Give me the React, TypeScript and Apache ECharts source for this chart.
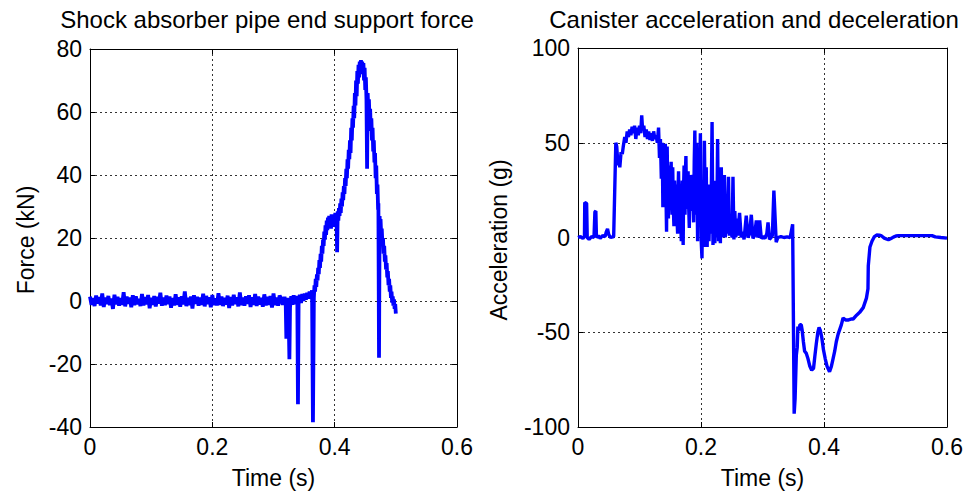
import React, { useEffect, useRef } from "react";
import * as echarts from "echarts";

const titles = ["Shock absorber pipe end support force", "Canister acceleration and deceleration"];
const xLabel = "Time (s)";
const yLabels = ["Force (kN)", "Acceleration (g)"];

const forceTicks = { min: -40, max: 80, interval: 20 };
const accTicks = { min: -100, max: 100, interval: 50 };
const timeTicks = { min: 0, max: 0.6, interval: 0.2 };

// support force (kN), quiet part sampled every 2.5 ms from t = 0
const forceNoiseStep = 0.0025;
const forceNoise = [
  1.4, -1.2, 0.9, -1.6, 1.7, -0.8, 1.2, -1.4, 2.4, -1.9,
  1.1, -1.0, 1.6, -1.3, 0.8, -2.5, 2.0, -1.1, 1.3, -1.5,
  0.9, -1.2, 2.8, -1.7, 1.4, -0.9, 1.1, -2.0, 1.8, -1.3,
  1.5, -1.0, 0.7, -1.6, 2.2, -1.4, 1.2, -1.1, 1.9, -2.3,
  1.0, -1.2, 1.6, -1.7, 1.3, -0.8, 2.6, -1.5, 1.1, -1.3,
  1.7, -1.0, 1.4, -2.1, 0.9, -1.4, 2.1, -1.2, 1.2, -1.8,
  1.5, -1.1, 3.0, -1.6, 1.0, -1.3, 1.4, -2.4, 1.8, -0.9,
  1.3, -1.5, 1.1, -1.2, 2.3, -1.7, 1.6, -1.0, 1.2, -2.0,
  1.9, -1.3, 0.8, -1.4, 2.5, -1.2, 1.4, -1.6, 1.0, -1.1,
  1.7, -2.2, 1.3, -1.4, 2.0, -1.0, 1.2, -1.7, 2.7, -1.3,
  1.1, -1.5, 1.5, -0.9, 1.8, -1.9, 1.2, -1.2, 2.2, -1.6,
  1.4, -1.1, 1.0, -1.8, 2.1, -1.4, 1.3, -1.2, 1.6, -2.1,
  2.4, -1.3, 1.1, -1.5, 1.7,
];

// support force (kN), impact part: [time s, force kN]
const forceEvent: [number, number][] = [
  [0.312, 1.0], [0.315, -1.2], [0.318, 1.3], [0.320, -1.0], [0.321, -12], [0.322, -5],
  [0.323, 1.0], [0.3245, -1.0], [0.326, -18.5], [0.327, -2], [0.329, 1.5], [0.331, -1.2],
  [0.333, 1.8], [0.335, -1.0], [0.337, 1.6], [0.339, -0.8], [0.340, -32.8], [0.341, -1],
  [0.343, 2.0], [0.345, -0.6], [0.347, 2.2], [0.349, 0], [0.351, 2.4], [0.353, 0.4],
  [0.355, 2.6], [0.357, 0.8], [0.359, 3.0], [0.361, 1.2], [0.363, 3.4], [0.3645, -38.5],
  [0.366, 1], [0.367, 5], [0.368, 3], [0.369, 7], [0.370, 4.5], [0.371, 8.5], [0.372, 6.5],
  [0.373, 10.5], [0.374, 8.5], [0.375, 13], [0.376, 10.5], [0.377, 15], [0.378, 12.5],
  [0.379, 17.5], [0.380, 15], [0.381, 19.5], [0.382, 17.5], [0.383, 22], [0.384, 19.5],
  [0.385, 24], [0.386, 21], [0.387, 25.5], [0.388, 22.5], [0.389, 26.5], [0.390, 23],
  [0.391, 27], [0.392, 23.5], [0.393, 27], [0.394, 23], [0.395, 27.5], [0.396, 23.5],
  [0.397, 27], [0.398, 24], [0.399, 27.5], [0.400, 23.5], [0.401, 28], [0.402, 24],
  [0.403, 27], [0.404, 15.5], [0.405, 28.5], [0.406, 25.5], [0.407, 29.5], [0.408, 27],
  [0.409, 31], [0.410, 28], [0.411, 32.5], [0.412, 30], [0.413, 34.5], [0.414, 32],
  [0.415, 36.5], [0.416, 34], [0.417, 39], [0.418, 36.5], [0.419, 42], [0.420, 39],
  [0.421, 45], [0.422, 42], [0.423, 48], [0.424, 45], [0.425, 51], [0.426, 47],
  [0.427, 55], [0.428, 51], [0.429, 58], [0.430, 55], [0.431, 62], [0.432, 58],
  [0.433, 66], [0.434, 62], [0.435, 70], [0.436, 65], [0.437, 73], [0.438, 69],
  [0.439, 75], [0.440, 71], [0.441, 76], [0.442, 72.5], [0.443, 76.5], [0.444, 73],
  [0.445, 76], [0.446, 72], [0.447, 75.5], [0.448, 70], [0.449, 74], [0.450, 67],
  [0.451, 71], [0.452, 64], [0.453, 42], [0.454, 66], [0.455, 60], [0.456, 64],
  [0.457, 57], [0.458, 61], [0.459, 54], [0.460, 58], [0.461, 51], [0.462, 55],
  [0.463, 47.5], [0.464, 51], [0.465, 44], [0.466, 47], [0.467, 39], [0.468, 43],
  [0.469, 34], [0.470, 37], [0.471, 29], [0.4715, 31], [0.4725, -18], [0.4735, 27],
  [0.474, 24], [0.475, 26], [0.476, 21], [0.477, 23], [0.478, 18], [0.479, 20],
  [0.480, 15], [0.481, 17.5], [0.482, 12.5], [0.483, 14.5], [0.484, 10], [0.485, 12],
  [0.486, 7.5], [0.487, 9.5], [0.488, 5], [0.489, 7], [0.490, 3], [0.491, 5],
  [0.492, 1], [0.493, 3], [0.494, -0.5], [0.495, 1.5], [0.496, -1.5], [0.497, 0.5],
  [0.498, -2.5], [0.499, -1], [0.500, -4],
];

// canister acceleration (g): [time s, acceleration g]
const accPoints: [number, number][] = [
  [0, 0], [0.004, 0.5], [0.008, -0.5], [0.0105, 0.5], [0.011, 18.5], [0.014, 18], [0.015, 0],
  [0.018, -1], [0.022, 0.5], [0.026, 0], [0.0275, 13.5], [0.029, 14], [0.030, 0], [0.033, 1],
  [0.036, -0.5], [0.040, 1], [0.044, 0.5], [0.046, 3], [0.048, 4.5], [0.050, 1.5], [0.053, 0],
  [0.058, 0.5], [0.0615, 50], [0.063, 48], [0.065, 38], [0.066, 43], [0.068, 37], [0.070, 45],
  [0.072, 44], [0.0736, 48], [0.076, 53], [0.078, 50], [0.080, 56], [0.082, 53], [0.084, 57],
  [0.086, 54], [0.088, 58.5], [0.090, 55], [0.092, 59], [0.094, 52], [0.096, 58], [0.098, 54],
  [0.100, 59], [0.102, 55], [0.1036, 64.5], [0.105, 57], [0.107, 59], [0.109, 53], [0.111, 57],
  [0.113, 52], [0.115, 56], [0.117, 51.5], [0.119, 55], [0.121, 51], [0.123, 56], [0.125, 52],
  [0.127, 54], [0.129, 50], [0.131, 58], [0.1325, 42], [0.134, 52], [0.1355, 31], [0.1365, 47],
  [0.137, 50], [0.138, 16], [0.1388, 40], [0.1395, 46], [0.1403, 28], [0.141, 20], [0.1415, 44],
  [0.142, 49.5], [0.143, 25], [0.144, 3], [0.1445, 30], [0.145, 48], [0.146, 22], [0.147, 10],
  [0.1475, 33], [0.148, 38], [0.149, 20], [0.150, 15], [0.1508, 34], [0.1515, 40], [0.1522, 18],
  [0.153, 12], [0.1535, 30], [0.154, 37], [0.155, 16], [0.156, 6], [0.1565, 24], [0.157, 30],
  [0.158, 14], [0.159, 8], [0.1595, 22], [0.160, 28], [0.161, 10], [0.162, 2], [0.1628, 26],
  [0.1635, 35], [0.1643, 14], [0.165, 6], [0.1655, 20], [0.166, 25], [0.167, 8], [0.168, -2],
  [0.1688, 22], [0.1695, 30], [0.1703, 10], [0.171, -4], [0.1718, 28], [0.1725, 38], [0.1733, 20],
  [0.174, 12], [0.1748, 36], [0.1755, 43], [0.1762, 24], [0.177, 15], [0.178, 30], [0.179, 35],
  [0.180, 16], [0.181, 5], [0.1815, 26], [0.182, 33], [0.183, 20], [0.184, 14], [0.185, 28],
  [0.186, 33], [0.187, 18], [0.188, 8], [0.189, 40], [0.190, 56.5], [0.1908, 30], [0.1915, 12],
  [0.1922, 38], [0.193, 50], [0.1938, 20], [0.1945, -2], [0.1952, 28], [0.196, 40], [0.1968, 20],
  [0.1975, 6], [0.1982, 38], [0.199, 55], [0.1998, 20], [0.2005, -3], [0.2016, -11],
  [0.203, 30], [0.2045, -5], [0.2055, 51], [0.207, 10], [0.2085, 37], [0.210, -5], [0.2115, 28],
  [0.213, -2], [0.2145, 20], [0.216, 2], [0.218, 61], [0.2195, -4], [0.221, 30], [0.2225, -3],
  [0.224, 22], [0.2255, 0], [0.227, 52], [0.2285, -2], [0.230, 24], [0.2315, -3], [0.233, 37],
  [0.2345, 0], [0.236, 22], [0.238, 33], [0.2395, 0], [0.241, 19], [0.2425, 2], [0.2447, 32],
  [0.246, 1], [0.2475, 12], [0.249, 5], [0.2505, 0], [0.252, 32], [0.2535, -1], [0.255, 14],
  [0.2565, 0], [0.258, 10], [0.2595, 1], [0.2627, 13], [0.2654, 0], [0.268, 3], [0.270, -1],
  [0.2736, 11.5], [0.2763, 0], [0.279, 2], [0.2818, 12], [0.2845, -0.5], [0.287, 1], [0.290, 9],
  [0.2925, 0], [0.2954, 9], [0.298, -0.5], [0.301, 0.5], [0.304, -0.5], [0.307, 2], [0.309, 8],
  [0.3114, -1], [0.314, 0], [0.316, 1], [0.3185, 24.8], [0.3223, -2.5], [0.325, 0], [0.330, 0.5],
  [0.335, 0], [0.340, 0.3], [0.345, 0], [0.349, 7], [0.3515, -93], [0.353, -85], [0.355, -62],
  [0.3565, -58], [0.3575, -47], [0.359, -49], [0.361, -46], [0.363, -46], [0.3645, -49],
  [0.3665, -55], [0.3685, -60], [0.371, -61], [0.374, -64], [0.377, -68], [0.380, -70],
  [0.383, -69], [0.385, -63], [0.3875, -56], [0.390, -50], [0.392, -47.5], [0.394, -49],
  [0.3965, -53], [0.399, -59], [0.402, -64], [0.405, -68], [0.409, -70.8], [0.412, -68],
  [0.4147, -64], [0.4174, -60], [0.420, -55], [0.423, -51], [0.4283, -46], [0.431, -42.5],
  [0.435, -43.5], [0.440, -43.5], [0.445, -43], [0.4474, -43], [0.453, -41], [0.458, -39.5],
  [0.4638, -37], [0.469, -32], [0.4715, -27], [0.472, -15], [0.4747, -5], [0.478, -2],
  [0.482, 0.5], [0.4856, 1.3], [0.490, 1.2], [0.4937, 0.8], [0.498, -0.3], [0.5047, -1.2],
  [0.509, -0.5], [0.5128, 0.2], [0.517, 0.8], [0.521, 1], [0.540, 1], [0.560, 1],
  [0.5755, 1], [0.581, 0.3], [0.590, 0], [0.600, -0.3],
];

const FONT = "'Liberation Sans', Arial, sans-serif";
const LINE_BLUE = "#0000ff";

export default function App() {
  const ref = useRef<HTMLDivElement>(null);

  useEffect(() => {
    if (!ref.current) return;
    const chart = echarts.init(ref.current, null, { renderer: "svg" });

    const forceData: [number, number][] = forceNoise
      .map((v, i) => [Number((i * forceNoiseStep).toFixed(4)), v] as [number, number])
      .concat(forceEvent);

    const grids = [
      { left: 90, top: 49, width: 367, height: 378 },
      { left: 578, top: 48, width: 369, height: 379 },
    ];

    const xAx = (gridIndex: number, top: boolean) => ({
      type: "value",
      gridIndex,
      ...timeTicks,
      position: top ? "top" : "bottom",
      axisLine: { show: true, onZero: false, lineStyle: { color: "#000", width: 1 } },
      axisTick: { show: true, inside: true, length: 5, lineStyle: { color: "#000" } },
      axisLabel: { show: !top, color: "#000", fontSize: 23, fontFamily: FONT, margin: 8 },
      splitLine: { show: !top, lineStyle: { color: "#333", type: [2, 3], width: 1 } },
    });
    const yAx = (gridIndex: number, right: boolean, ticks: any) => ({
      type: "value",
      gridIndex,
      ...ticks,
      position: right ? "right" : "left",
      axisLine: { show: true, onZero: false, lineStyle: { color: "#000", width: 1 } },
      axisTick: { show: true, inside: true, length: 5, lineStyle: { color: "#000" } },
      axisLabel: { show: !right, color: "#000", fontSize: 23, fontFamily: FONT, margin: 8 },
      splitLine: { show: !right, lineStyle: { color: "#333", type: [2, 3], width: 1 } },
    });

    const plotCenters = grids.map((g) => g.left + g.width / 2);
    const titleCenters = [267, 754];

    chart.setOption({
      animation: false,
      backgroundColor: "#fff",
      grid: grids,
      xAxis: [xAx(0, false), xAx(0, true), xAx(1, false), xAx(1, true)],
      yAxis: [yAx(0, false, forceTicks), yAx(0, true, forceTicks), yAx(1, false, accTicks), yAx(1, true, accTicks)],
      series: [
        {
          type: "line",
          xAxisIndex: 0,
          yAxisIndex: 0,
          data: forceData,
          showSymbol: false,
          lineStyle: { color: LINE_BLUE, width: 3.8 },
          silent: true,
        },
        {
          type: "line",
          xAxisIndex: 2,
          yAxisIndex: 2,
          data: accPoints,
          showSymbol: false,
          lineStyle: { color: LINE_BLUE, width: 3.4 },
          silent: true,
        },
      ],
      graphic: [
        ...titles.map((t, i) => ({
          type: "text",
          x: titleCenters[i],
          y: 19,
          style: { text: t, font: `24px ${FONT}`, fill: "#000", textAlign: "center", textVerticalAlign: "middle" },
        })),
        ...plotCenters.map((c) => ({
          type: "text",
          x: c,
          y: 478,
          style: { text: xLabel, font: `23px ${FONT}`, fill: "#000", textAlign: "center", textVerticalAlign: "middle" },
        })),
        {
          type: "text",
          x: 26,
          y: 240,
          rotation: Math.PI / 2,
          style: { text: yLabels[0], font: `23px ${FONT}`, fill: "#000", textAlign: "center", textVerticalAlign: "middle" },
        },
        {
          type: "text",
          x: 499,
          y: 240,
          rotation: Math.PI / 2,
          style: { text: yLabels[1], font: `23px ${FONT}`, fill: "#000", textAlign: "center", textVerticalAlign: "middle" },
        },
      ],
    });

    return () => chart.dispose();
  }, []);

  return (
    <div
      ref={ref}
      style={{ position: "fixed", left: 0, top: 0, width: 968, height: 493, background: "#fff" }}
    />
  );
}
